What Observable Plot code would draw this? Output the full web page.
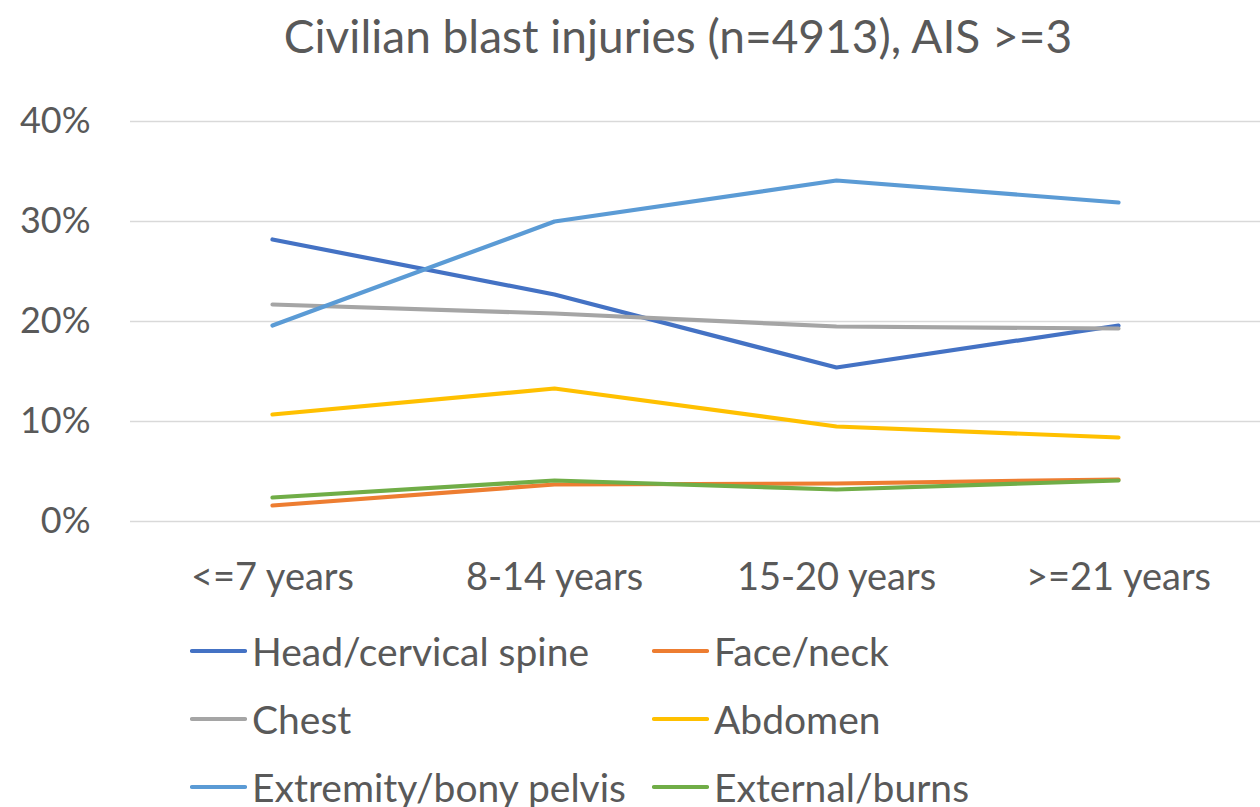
<!DOCTYPE html>
<html>
<head>
<meta charset="utf-8">
<script src="https://cdn.jsdelivr.net/npm/d3@7"></script>
<script src="https://cdn.jsdelivr.net/npm/@observablehq/plot@0.6"></script>
<style>
  html, body { margin: 0; padding: 0; background: #fff; }
  #wrap { position: relative; width: 1260px; height: 807px; overflow: hidden; font-family: Lato, "Open Sans", sans-serif; color: #595959; }
  #title { position: absolute; left: 96px; right: 0; top: 8px; text-align: center; font-size: 46px; line-height: 56px; white-space: nowrap; }
  #chart { position: absolute; left: 0; top: 80px; }
  #legend { position: absolute; left: 190px; top: 617px; display: grid; grid-template-columns: 462px 462px; grid-auto-rows: 68px; }
  .item { display: flex; align-items: center; font-size: 39px; white-space: nowrap; }
  .item svg { margin-right: 5px; flex: none; }
</style>
</head>
<body>
<div id="wrap">
  <div id="title">Civilian blast injuries (n=4913), AIS &gt;=3</div>
  <div id="chart"></div>
  <div id="legend"></div>
</div>
<script>
const categories = ["<=7 years", "8-14 years", "15-20 years", ">=21 years"];
const seriesNames = ["Head/cervical spine", "Face/neck", "Chest", "Abdomen", "Extremity/bony pelvis", "External/burns"];
const seriesColors = ["#4472C4", "#ED7D31", "#A5A5A5", "#FFC000", "#5B9BD5", "#70AD47"];
const head = [28.2, 22.7, 15.4, 19.6];
const face = [1.6, 3.7, 3.8, 4.2];
const chest = [21.7, 20.8, 19.5, 19.3];
const abdomen = [10.7, 13.3, 9.5, 8.4];
const extremity = [19.6, 30.0, 34.1, 31.9];
const external = [2.4, 4.1, 3.2, 4.1];
const yTicks = [0, 0.1, 0.2, 0.3, 0.4];

const seriesValues = [head, face, chest, abdomen, extremity, external];
const rows = [];
seriesNames.forEach((name, i) => {
  seriesValues[i].forEach((v, j) => rows.push({series: name, category: categories[j], value: v / 100}));
});

const chart = Plot.plot({
  width: 1260,
  height: 560,
  marginLeft: 130,
  marginRight: 0,
  marginTop: 41,
  marginBottom: 119,
  style: {fontFamily: "Lato, 'Open Sans', sans-serif", fontSize: "36px", color: "#595959", background: "white"},
  x: {type: "point", domain: categories, padding: 0.5, label: null},
  y: {domain: [0, 0.4], label: null},
  color: {domain: seriesNames, range: seriesColors},
  marks: [
    Plot.ruleY(yTicks, {stroke: "#D9D9D9", strokeWidth: 1.5}),
    Plot.axisY({ticks: yTicks, tickFormat: d3.format(".0%"), tickSize: 0, tickPadding: 40, label: null, fontSize: 36, fill: "#595959"}),
    Plot.axisX({tickSize: 0, tickPadding: 42, label: null, fontSize: 38, fill: "#595959"}),
    Plot.line(rows, {x: "category", y: "value", z: "series", stroke: "series", strokeWidth: 4.2, strokeLinecap: "round", strokeLinejoin: "round"})
  ]
});
document.getElementById("chart").appendChild(chart);

const legend = document.getElementById("legend");
seriesNames.forEach((name, i) => {
  const item = document.createElement("div");
  item.className = "item";
  item.innerHTML = `<svg width="57" height="8"><line x1="2" y1="4" x2="55" y2="4" stroke="${seriesColors[i]}" stroke-width="4.2" stroke-linecap="round"/></svg><span>${name}</span>`;
  legend.appendChild(item);
});
</script>
</body>
</html>
